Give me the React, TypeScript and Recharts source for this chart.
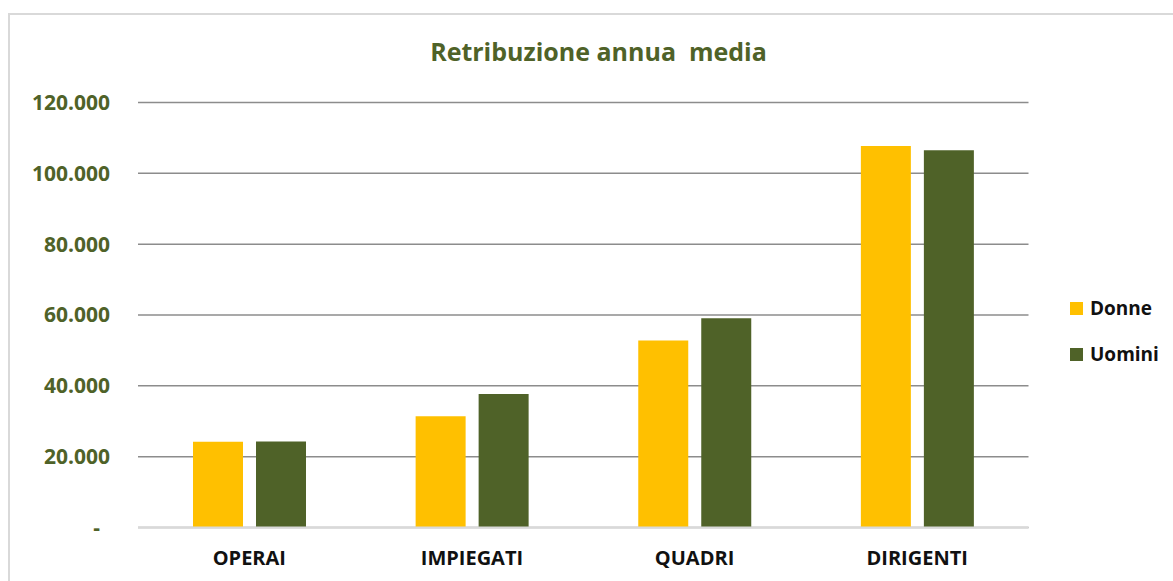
import React from "react";
import { BarChart, Bar, XAxis, YAxis, CartesianGrid, Legend } from "recharts";

const categories = ["OPERAI", "IMPIEGATI", "QUADRI", "DIRIGENTI"];
const donne = [24200, 31400, 52800, 107700];
const uomini = [24300, 37700, 59100, 106500];
const yTicks = [0, 20000, 40000, 60000, 80000, 100000, 120000];

const data = categories.map((c, i) => ({ name: c, Donne: donne[i], Uomini: uomini[i] }));

const GREEN = "#4F6228";
const YELLOW = "#FFC000";
const FONT = "'Open Sans', sans-serif";

const fmt = (v: number) => {
  if (v === 0) return "-";
  const s = String(Math.round(v));
  return s.replace(/\B(?=(\d{3})+(?!\d))/g, ".");
};

const YTick = (props: any) => {
  const { x, y, payload } = props;
  const zero = payload.value === 0;
  return (
    <text
      x={x - (zero ? 10 : 0)}
      y={y}
      dy="0.355em"
      textAnchor="end"
      fill={GREEN}
      fontFamily={FONT}
      fontWeight={700}
      fontSize={21}
    >
      {fmt(payload.value)}
    </text>
  );
};

const XTick = (props: any) => {
  const { x, y, payload } = props;
  return (
    <text x={x} y={y} dy="0.71em" textAnchor="middle" fill="#111" fontFamily={FONT} fontWeight={700} fontSize={20}>
      {payload.value}
    </text>
  );
};

const LegendContent = (props: any) => {
  const { payload } = props;
  return (
    <div style={{ display: "flex", flexDirection: "column", gap: 20 }}>
      {(payload || []).map((p: any) => (
        <div key={p.value} style={{ display: "flex", alignItems: "center", height: 26 }}>
          <span style={{ display: "inline-block", width: 13, height: 13, background: p.color, marginRight: 7 }} />
          <span style={{ fontFamily: FONT, fontWeight: 700, fontSize: 19, color: "#111", lineHeight: "26px" }}>{p.value}</span>
        </div>
      ))}
    </div>
  );
};

export default function App() {
  return (
    <div style={{ position: "absolute", left: 0, top: 0, width: 1173, height: 581, overflow: "hidden", background: "#fff" }}>
      <div
        style={{
          position: "absolute",
          left: 8,
          top: 13,
          width: 1200,
          height: 620,
          border: "2px solid #d9d9d9",
          boxSizing: "border-box",
        }}
      />
      <div
        style={{
          position: "absolute",
          left: 0,
          width: 1197,
          top: 33,
          textAlign: "center",
          fontFamily: FONT,
          fontWeight: 700,
          fontSize: 25,
          color: GREEN,
          whiteSpace: "pre",
          lineHeight: "36px",
        }}
      >
        {"Retribuzione annua  media"}
      </div>
      <div style={{ position: "absolute", left: 0, top: 0 }}>
        <BarChart
          width={1173}
          height={581}
          data={data}
          margin={{ top: 102.5, right: 44.5, bottom: 23.5, left: 38 }}
          barSize={50}
          barGap={13}
        >
          <CartesianGrid vertical={false} stroke="#8c8c8c" strokeWidth={1.5} />
          <XAxis
            dataKey="name"
            height={30}
            tickLine={false}
            axisLine={{ stroke: "#d9d9d9", strokeWidth: 2 }}
            tick={<XTick />}
            tickMargin={17}
            interval={0}
          />
          <YAxis
            width={100}
            domain={[0, 120000]}
            ticks={yTicks}
            axisLine={false}
            tickLine={false}
            tickMargin={22}
            tick={<YTick />}
          />
          <Legend
            layout="horizontal"
            verticalAlign="middle"
            align="right"
            content={<LegendContent />}
            wrapperStyle={{ position: "absolute", left: 1070, top: 295, width: 100 }}
          />
          <Bar dataKey="Donne" fill={YELLOW} isAnimationActive={false} />
          <Bar dataKey="Uomini" fill={GREEN} isAnimationActive={false} />
        </BarChart>
      </div>
    </div>
  );
}
